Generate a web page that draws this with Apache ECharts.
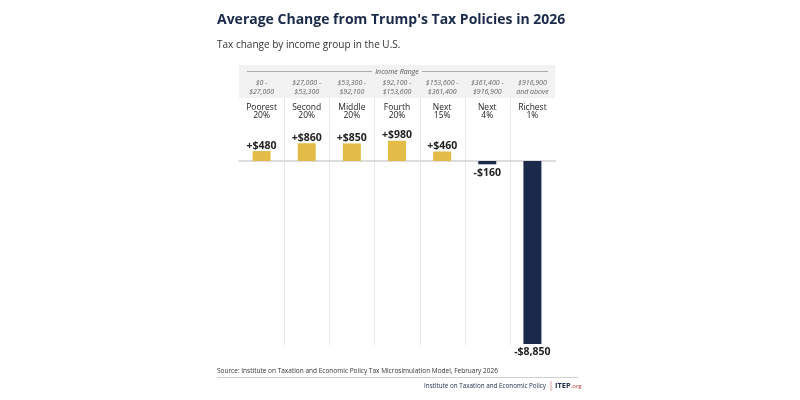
<!DOCTYPE html>
<html>
<head>
<meta charset="utf-8">
<script src="https://cdn.jsdelivr.net/npm/echarts@6/dist/echarts.min.js"></script>
<style>html,body{margin:0;padding:0;background:#fff;}#c{width:800px;height:400px;}</style>
</head>
<body>
<div id="c"></div>
<script>
const groups = ['Poorest\n20%', 'Second\n20%', 'Middle\n20%', 'Fourth\n20%', 'Next\n15%', 'Next\n4%', 'Richest\n1%'];
const ranges = ['$0 -\n$27,000', '$27,000 -\n$53,300', '$53,300 -\n$92,100', '$92,100 -\n$153,600', '$153,600 -\n$361,400', '$361,400 -\n$916,900', '$916,900\nand above'];
const taxChange = [480, 860, 850, 980, 460, -160, -8850];

const YELLOW = '#E3BC47', NAVY = '#1B2A4B';
const FONT = '"Open Sans", "DejaVu Sans", sans-serif';
const chart = echarts.init(document.getElementById('c'));

const GL = 239, GR = 555, GT = 98, GB = 344;

const graphics = [
  { type: 'rect', z: -10, shape: { x: GL, y: 65, width: GR - GL, height: GT - 65 }, style: { fill: '#f2f2f2' } },
  { type: 'line', shape: { x1: 247, y1: 71.5, x2: 372, y2: 71.5 }, style: { stroke: '#999', lineWidth: 0.8 } },
  { type: 'line', shape: { x1: 422, y1: 71.5, x2: 548, y2: 71.5 }, style: { stroke: '#999', lineWidth: 0.8 } },
  { type: 'text', x: 397, y: 71.5, style: { text: 'Income Range', fontSize: 7, fontStyle: 'italic', fill: '#555', align: 'center', verticalAlign: 'middle', fontFamily: FONT } },
  { type: 'text', x: 217, y: 371, style: { text: 'Source: Institute on Taxation and Economic Policy Tax Microsimulation Model, February 2026', fontSize: 6.5, fill: '#333', verticalAlign: 'middle', fontFamily: FONT } },
  { type: 'line', shape: { x1: 217, y1: 377.5, x2: 578, y2: 377.5 }, style: { stroke: '#cfcfcf', lineWidth: 1 } },
  { type: 'text', x: 546, y: 386, style: { text: 'Institute on Taxation and Economic Policy', fontSize: 6.3, fill: NAVY, align: 'right', verticalAlign: 'middle', fontFamily: FONT } },
  { type: 'line', shape: { x1: 551, y1: 381, x2: 551, y2: 391 }, style: { stroke: '#e0a0a0', lineWidth: 1 } },
  { type: 'text', x: 555, y: 386, style: { text: '{a|ITEP}{b|.org}', verticalAlign: 'middle', fontFamily: FONT,
    rich: { a: { fontSize: 7.5, fontWeight: 'bold', fill: NAVY, fontFamily: FONT }, b: { fontSize: 6, fill: '#c0392b', fontFamily: FONT } } } }
];

chart.setOption({
  animation: false,
  backgroundColor: '#fff',
  textStyle: { fontFamily: FONT },
  title: [
    { text: "Average Change from Trump's Tax Policies in 2026", left: 212, top: 8,
      textStyle: { fontSize: 14, fontWeight: 'bold', color: NAVY, fontFamily: FONT } },
    { text: 'Tax change by income group in the U.S.', left: 212, top: 35,
      textStyle: { fontSize: 10, fontWeight: 'normal', color: '#333', fontFamily: FONT } }
  ],
  grid: { left: GL, right: 800 - GR, top: GT, bottom: 400 - GB },
  xAxis: [
    { type: 'category', data: groups, position: 'bottom',
      axisLine: { onZero: true, lineStyle: { color: '#dcdcdc', width: 2 } },
      axisTick: { show: false }, axisLabel: { show: false }, splitLine: { show: false } },
    { type: 'category', data: groups, position: 'top',
      axisLine: { show: false }, axisTick: { show: false },
      axisLabel: { inside: true, margin: 5, fontSize: 8.5, lineHeight: 8.5, color: '#222', fontFamily: FONT } },
    { type: 'category', data: ranges, position: 'top',
      axisLine: { show: false }, axisTick: { show: false },
      axisLabel: { margin: 2, fontSize: 7, lineHeight: 9, color: '#666', fontStyle: 'italic', fontFamily: FONT } }
  ],
  yAxis: { type: 'value', min: -8850, max: 3047, show: false, splitLine: { show: false } },
  graphic: graphics,
  series: [{
    type: 'bar', xAxisIndex: 0, barWidth: 18,
    data: taxChange.map(v => ({
      value: v,
      itemStyle: { color: v >= 0 ? YELLOW : NAVY },
      label: { position: v >= 0 ? 'top' : 'bottom', distance: v >= 0 ? 0 : 3 }
    })),
    label: { show: true, fontSize: 10.5, fontWeight: 'bold', color: '#222', fontFamily: FONT,
      formatter: p => (p.value >= 0 ? '+$' : '-$') + Math.abs(p.value).toLocaleString('en-US') }
  }]
});

// vertical separators between columns, from the axis' own positions
const seps = [];
for (let i = 0; i < groups.length - 1; i++) {
  const a = chart.convertToPixel({ xAxisIndex: 0 }, i);
  const b = chart.convertToPixel({ xAxisIndex: 0 }, i + 1);
  const x = Math.round((a + b) / 2) + 0.5;
  seps.push({ type: 'line', z: -5, shape: { x1: x, y1: GT, x2: x, y2: GB + 1 }, style: { stroke: '#e8e8e8', lineWidth: 1 } });
}
chart.setOption({ graphic: graphics.concat(seps) }, { replaceMerge: ['graphic'] });
</script>
</body>
</html>
